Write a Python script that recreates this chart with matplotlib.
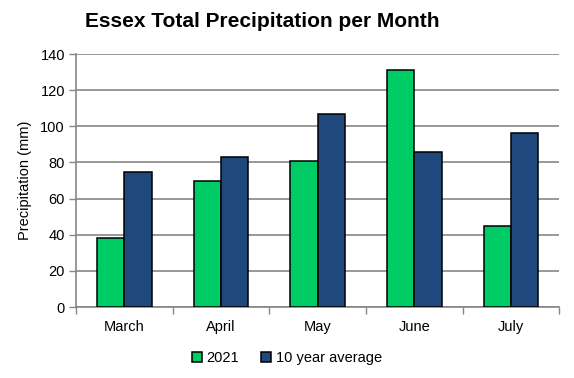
import numpy as np
import matplotlib.pyplot as plt

months = ['March', 'April', 'May', 'June', 'July']
rain_2021 = [38, 70, 81, 131, 45]
rain_avg = [74.5, 83, 107, 86, 96.5]

plt.rcParams['font.family'] = ['Liberation Sans', 'DejaVu Sans']

fig = plt.figure(figsize=(5.74, 3.78), dpi=100)
ax = fig.add_axes([0.1324, 0.1878, 0.842, 0.6693])

x = np.arange(len(months))
w = 0.284
ax.bar(x - w / 2, rain_2021, w, color='#00cc66', edgecolor='black', linewidth=1.1,
       label='2021', zorder=3)
ax.bar(x + w / 2, rain_avg, w, color='#1f497d', edgecolor='black', linewidth=1.1,
       label='10 year average', zorder=3)

ax.set_xlim(-0.5, len(months) - 0.5)
ax.set_ylim(0, 140)
ax.set_yticks(np.arange(0, 141, 20))
ax.yaxis.grid(True, color='#868686', linewidth=1.2, zorder=0)

# category labels centred, tick marks on the boundaries
ax.set_xticks(np.arange(-0.5, len(months)), minor=False)
ax.set_xticklabels([])
ax.set_xticks(x, minor=True)
ax.set_xticklabels(months, minor=True, fontsize=10.5)
ax.tick_params(axis='x', which='minor', length=0, pad=9)
ax.tick_params(axis='x', which='major', length=5, color='#868686', width=1)
ax.tick_params(axis='y', length=5, color='#868686', width=1, labelsize=10.5, pad=3)

for side in ['top', 'right']:
    ax.spines[side].set_visible(False)
for side in ['left', 'bottom']:
    ax.spines[side].set_color('#868686')
    ax.spines[side].set_linewidth(1.2)

ax.set_ylabel('Precipitation (mm)', fontsize=10.5, labelpad=6)
fig.text(0.457, 0.942, 'Essex Total Precipitation per Month', fontsize=15,
         fontweight='bold', ha='center', va='center')

fig.legend(loc='lower center', bbox_to_anchor=(0.5, 0.0), ncol=2, frameon=False,
           fontsize=10.5, handlelength=0.7, handleheight=0.7, handletextpad=0.3,
           columnspacing=1.5)

fig.savefig('out.png', dpi=100)
